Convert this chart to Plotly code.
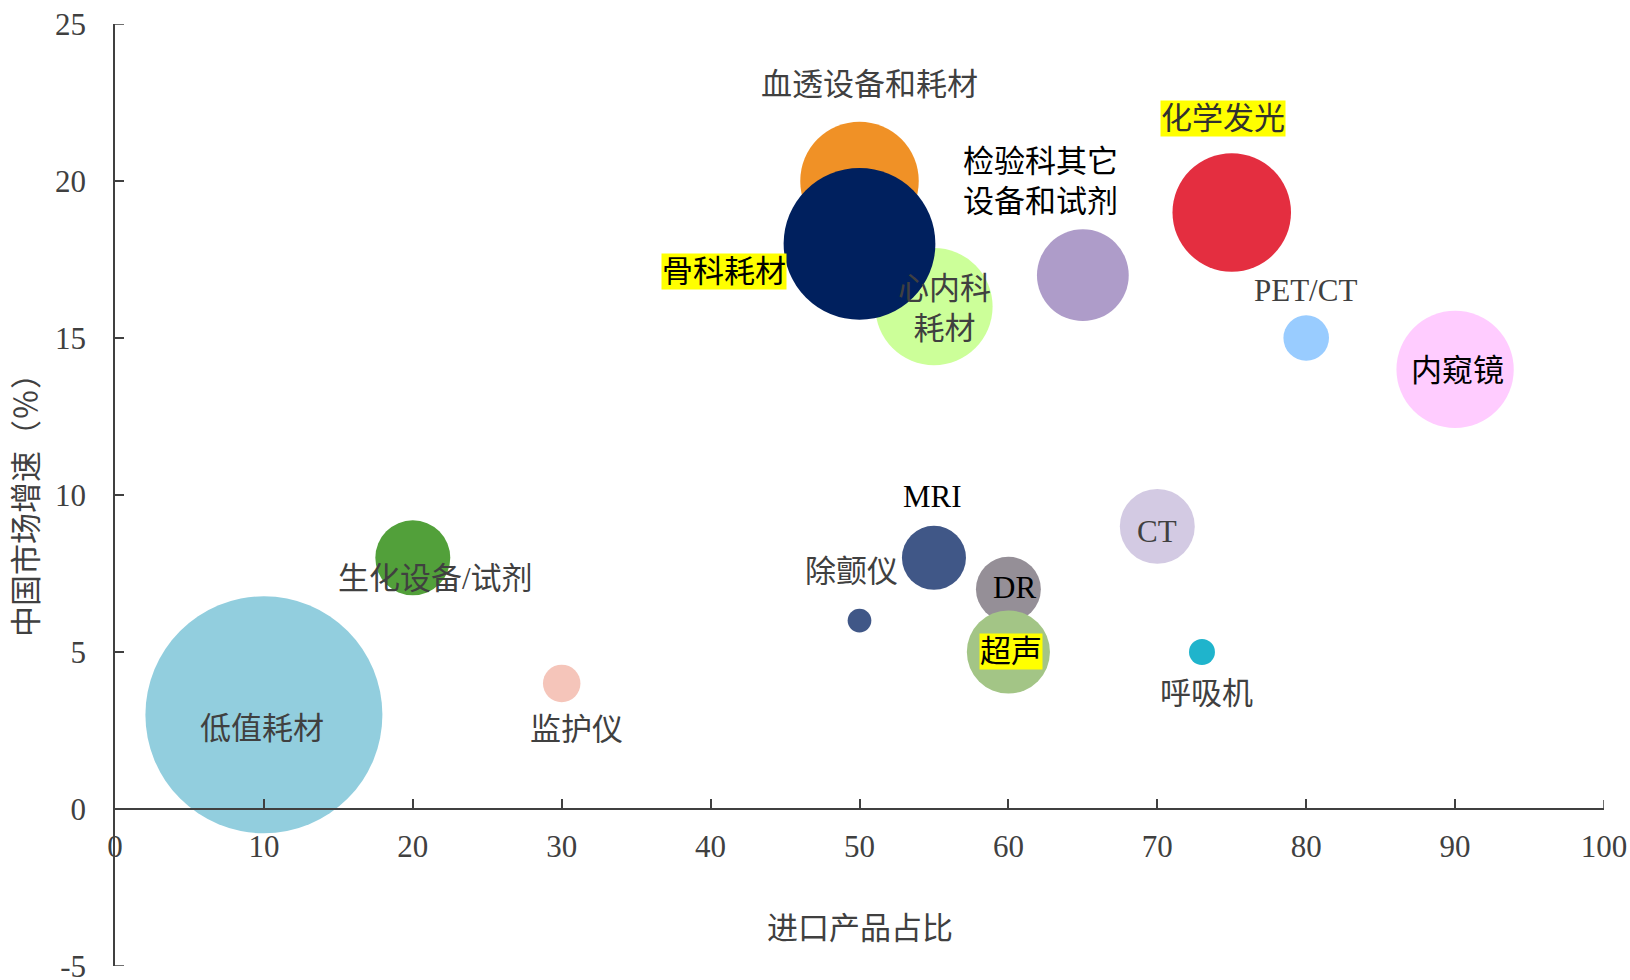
import plotly.graph_objects as go

# Product categories: import share (%), China market growth (%), market size (bubble area)
names = ["低值耗材", "生化设备/试剂", "监护仪", "血透设备和耗材", "心内科耗材", "骨科耗材",
         "检验科其它设备和试剂", "化学发光", "PET/CT", "内窥镜", "MRI", "除颤仪",
         "DR", "超声", "CT", "呼吸机"]
import_share = [10, 20, 30, 50, 55, 50, 65, 75, 80, 90, 55, 50, 60, 60, 70, 73]
growth = [3, 8, 4, 20, 16, 18, 17, 19, 15, 14, 8, 6, 7, 5, 9, 5]
market_size = [1000, 100, 25, 250, 245, 410, 150, 250, 37, 245, 73, 10, 75, 123, 100, 12]
colors = ["#92CEDE", "#52A03A", "#F5C5BA", "#F09126", "#CCFF99", "#00205E",
          "#AE9CC9", "#E42E40", "#99CCFF", "#FFCCFF", "#405787", "#405787",
          "#958F97", "#A3C586", "#D3CAE3", "#1FB4CC"]

# Label text (line breaks) and pixel offsets from each bubble centre
label_text = ["低值耗材", "生化设备/试剂", "监护仪", "血透设备和耗材", "心内科<br>耗材", "骨科耗材",
              "检验科其它<br>设备和试剂", "化学发光", "PET/CT", "内窥镜", "MRI", "除颤仪",
              "DR", "超声", "CT", "呼吸机"]
label_dx = [-2, 23, 15, 10, 11, -136, -42, -9, -1, 2, -1, -8, 6, 3, 0, 5]
label_dy = [14, 21, 46, -97, 2, 28, -94, -94, -48, 1, -61, -49, -2, -1, 5, 41]
label_color = ["#404040", "#404040", "#404040", "#404040", "#404040", "#000000",
               "#000000", "#303030", "#404040", "#000000", "#000000", "#404040",
               "#000000", "#000000", "#404040", "#404040"]
highlighted = {"骨科耗材", "化学发光", "超声"}

x_range = [0, 100]
y_range = [-5, 25]
x_ticks = list(range(0, 101, 10))
y_ticks = list(range(-5, 26, 5))
y_tick_text = ["-5", "0", "5", "10", "15", "20", "25"]

FONT = "Liberation Serif, Noto Sans CJK SC, serif"
AXIS = "#404040"
TICK_LEN = 9
max_diameter = 237

fig = go.Figure(go.Scatter(
    x=import_share, y=growth, mode="markers",
    marker=dict(size=market_size, sizemode="area",
                sizeref=2.0 * max(market_size) / max_diameter ** 2,
                color=colors, opacity=1, line=dict(width=0)),
    hoverinfo="text", text=names,
))

for i, t in enumerate(label_text):
    hl = names[i] in highlighted
    fig.add_annotation(
        x=import_share[i], y=growth[i], xref="x", yref="y",
        text=t, showarrow=False,
        xshift=label_dx[i], yshift=-label_dy[i],
        font=dict(family=FONT, size=31, color=label_color[i]),
        bgcolor="#FFFF00" if hl else "rgba(0,0,0,0)",
        borderpad=0, align="center",
    )

# Axis titles
fig.add_annotation(text="进口产品占比", xref="paper", yref="paper", x=0.5, y=0.040,
                   xanchor="center", yanchor="middle",
                   showarrow=False, font=dict(family=FONT, size=31, color=AXIS))
fig.add_annotation(text="中国市场增速（％）", xref="paper", yref="paper", x=-0.059, y=0.497,
                   xanchor="center", yanchor="middle",
                   textangle=-90, showarrow=False,
                   font=dict(family=FONT, size=31, color=AXIS))

# Inside tick marks at the axis ends (Plotly drops inside ticks that sit on the range ends)
plot_w = 1630 - 115 - 26
plot_h = 980 - 24 - 14
for yv in (y_range[0], y_range[1]):
    fig.add_shape(type="line", xref="paper", yref="y", x0=0, x1=TICK_LEN / plot_w,
                  y0=yv, y1=yv, line=dict(color=AXIS, width=1.5))
fig.add_shape(type="line", xref="x", yref="y", x0=x_range[1], x1=x_range[1],
              y0=0, y1=TICK_LEN * (y_range[1] - y_range[0]) / plot_h,
              line=dict(color=AXIS, width=1.5))

fig.update_layout(
    width=1630, height=980,
    margin=dict(l=115, r=26, t=24, b=14, autoexpand=False),
    paper_bgcolor="white", plot_bgcolor="white",
    showlegend=False,
    xaxis=dict(range=x_range, tickvals=x_ticks, ticks="inside", ticklen=TICK_LEN,
               tickwidth=1.5, tickcolor=AXIS, showline=True, linecolor=AXIS,
               linewidth=1.5, showgrid=False, zeroline=False, automargin=False,
               anchor="free", position=5 / 30, ticklabelstandoff=10,
               ticklabeloverflow="allow",
               tickfont=dict(family=FONT, size=31, color=AXIS)),
    yaxis=dict(range=y_range, tickvals=y_ticks, ticktext=y_tick_text,
               ticks="inside", ticklen=TICK_LEN,
               tickwidth=1.5, tickcolor=AXIS, showline=True, linecolor=AXIS,
               linewidth=1.5, showgrid=False, zeroline=False, automargin=False,
               ticklabelstandoff=21, ticklabeloverflow="allow",
               tickfont=dict(family=FONT, size=31, color=AXIS)),
)

fig.write_html("out.html")
